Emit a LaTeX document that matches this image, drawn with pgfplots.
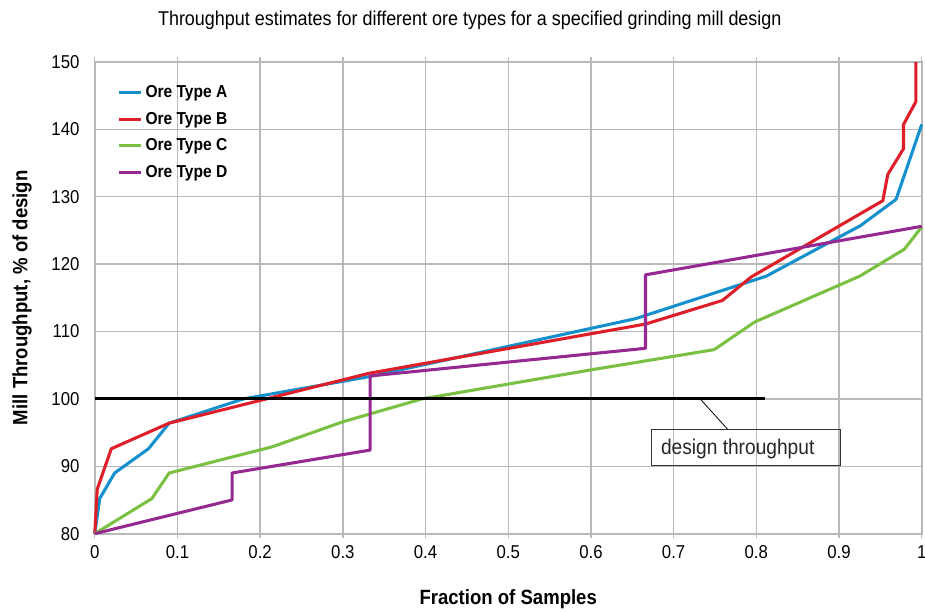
\documentclass[border=0pt]{standalone}
\usepackage{fontspec}
\setmainfont{Liberation Sans}[FakeStretch=0.9]
\usepackage{pgfplots}
\pgfplotsset{compat=1.18}

\definecolor{oreA}{RGB}{20,145,205}
\definecolor{oreB}{RGB}{222,30,40}
\definecolor{oreC}{RGB}{122,192,66}
\definecolor{oreD}{RGB}{150,40,145}
\definecolor{gridgray}{RGB}{185,185,185}

\begin{document}
\begin{tikzpicture}
\begin{axis}[
    scale only axis,
    width=621.75pt, height=354.75pt,
    xmin=0, xmax=1, ymin=80, ymax=150,
    xtick={0,0.1,...,1.01}, ytick={80,90,...,150},
    xticklabels={0,0.1,0.2,0.3,0.4,0.5,0.6,0.7,0.8,0.9,1},
    /pgf/number format/assume math mode=true,
    tick label style={font=\fontsize{14}{16}\selectfont},
    xticklabel style={yshift=-2pt},
    yticklabel style={xshift=-8pt},
    xtick align=outside,
    xtick style={gridgray, line width=1pt},
    ytick style={draw=none},
    major tick length=3.5pt,
    grid=major,
    grid style={gridgray, line width=1pt},
    axis line style={gridgray, line width=1.5pt},
    xlabel={\textbf{Fraction of Samples}},
    ylabel={\textbf{Mill Throughput, \% of design}},
    label style={font=\fontsize{15.5}{18}\selectfont},
    xlabel style={yshift=-16pt},
    ylabel style={yshift=8pt},
    clip=false,
    legend style={draw=none, fill=none, at={(rel axis cs:0.022,0.962)}, anchor=north west,
        font=\bfseries\fontsize{13}{15}\selectfont, row sep=5.5pt,
        legend cell align=left},
    legend image code/.code={\draw[#1, line width=2.2pt] (0pt,0pt) -- (0.6cm,0pt);},
    every axis plot/.append style={line width=2.3pt, mark=none, line join=round},
]
\addplot[oreA] coordinates {
    (0,80) (0.006,85.2) (0.024,89.0) (0.065,92.6) (0.09,96.4) (0.18,100.0)
    (0.332,103.3) (0.654,111.9) (0.812,118.2) (0.926,125.7) (0.969,129.6) (1.0,140.7)
};
\addplot[oreB] coordinates {
    (0,80) (0.003,86.6) (0.02,92.6) (0.09,96.4) (0.332,103.8) (0.666,111.1)
    (0.759,114.6) (0.794,118.1) (0.953,129.4) (0.959,133.3) (0.978,137.1)
    (0.978,140.7) (0.993,144.1) (0.993,150)
};
\addplot[oreC] coordinates {
    (0,80) (0.069,85.2) (0.09,89.0) (0.215,92.9) (0.3,96.6) (0.396,100.0)
    (0.6,104.3) (0.749,107.3) (0.798,111.4) (0.925,118.2) (0.979,122.2) (1.0,125.5)
};
\addplot[oreD] coordinates {
    (0,80) (0.166,85.0) (0.166,89.0) (0.333,92.4) (0.333,103.4)
    (0.666,107.5) (0.666,118.4) (1.0,125.6)
};
\legend{Ore Type A, Ore Type B, Ore Type C, Ore Type D}

\addplot[black, line width=2.2pt, forget plot] coordinates {(0,100) (0.81,100)};
\draw[black, line width=0.6pt] (axis cs:0.732,100) -- (axis cs:0.766,95.4);
\draw[black!80, line width=0.8pt] (axis cs:0.673,90.1) rectangle (axis cs:0.902,95.4);
\node[font=\fontsize{16}{18}\selectfont, text=black!85] at (axis cs:0.7775,92.6) {design throughput};

\node[font=\fontsize{15}{17}\selectfont] at (rel axis cs:0.4535,1.0) [yshift=31pt] {Throughput estimates for different ore types for a specified grinding mill design};

\coordinate (bl) at (rel axis cs:-0.1146,-0.166);
\coordinate (tr) at (rel axis cs:1.004,1.1311);
\end{axis}
\pgfresetboundingbox
\path[use as bounding box] (bl) rectangle (tr);
\end{tikzpicture}
\end{document}
